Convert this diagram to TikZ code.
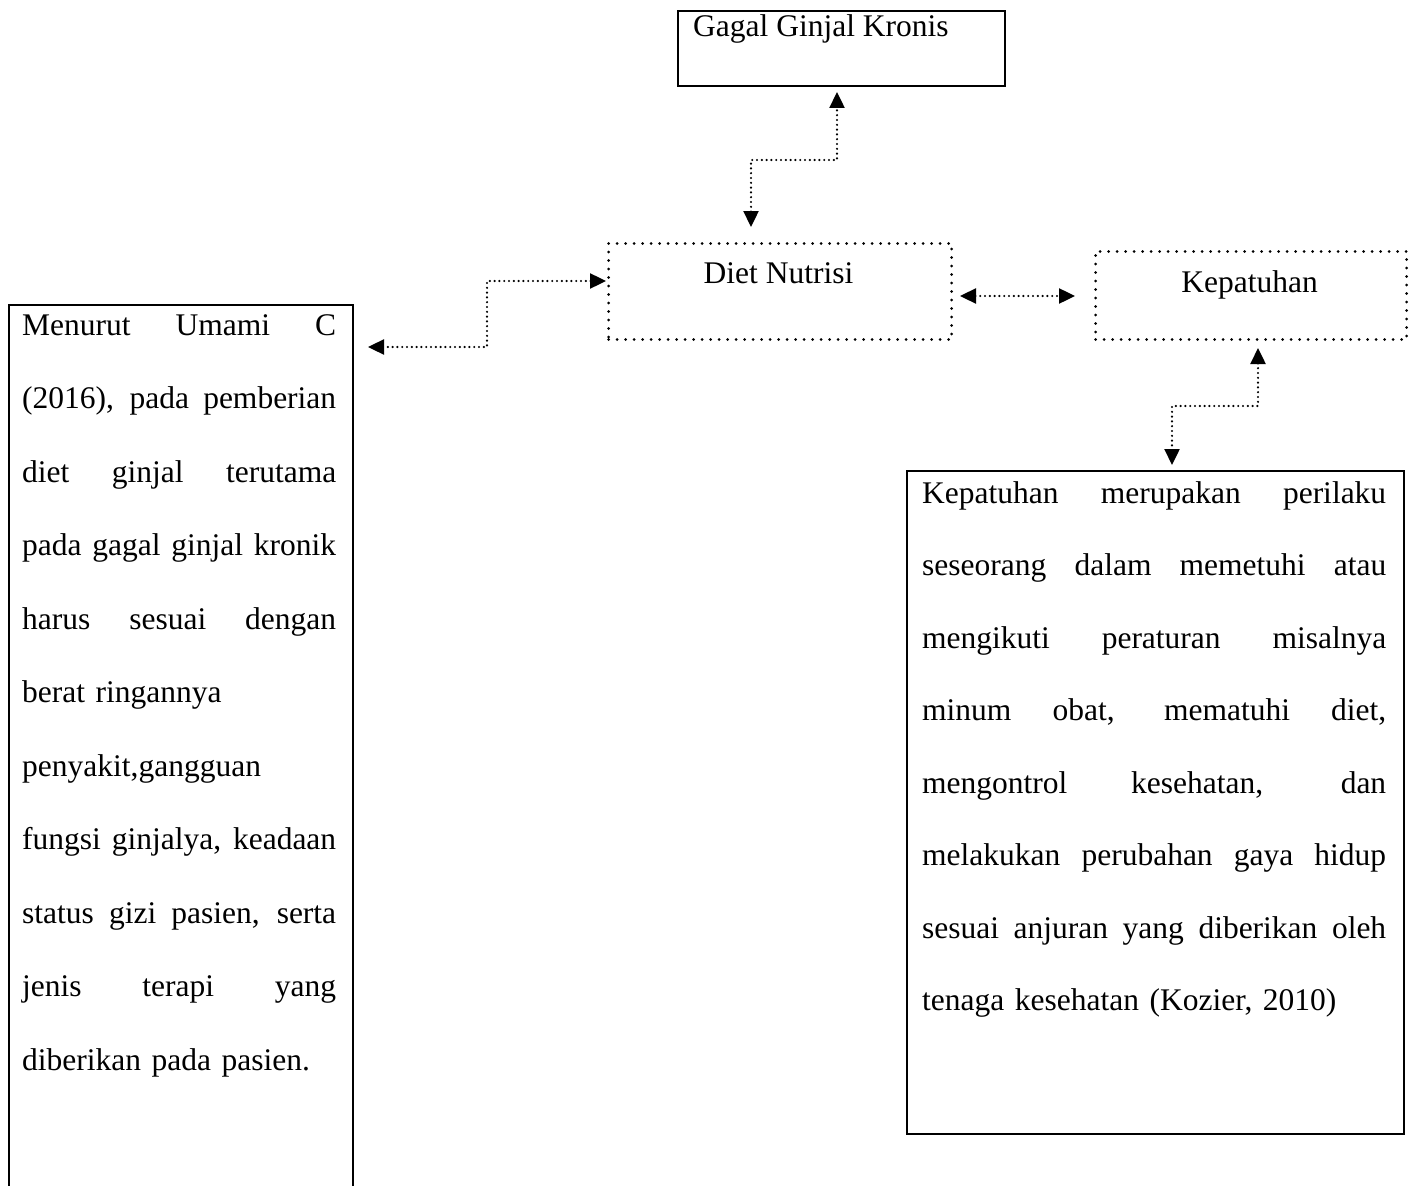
\documentclass[tikz,border=0pt]{standalone}
\usepackage{fontspec}
\setmainfont{Liberation Serif}
\usetikzlibrary{arrows.meta}
\newcommand{\jline}[1]{\leavevmode\hbox to\linewidth{\spaceskip=0.25em plus 1fil\xspaceskip=0.25em plus 1fil\relax #1}}
\begin{document}
\begin{tikzpicture}[x=1pt,y=-1pt,
  solidbox/.style={draw, line width=2.4pt, inner sep=0pt, anchor=north west},
  dotbox/.style={draw, line width=3pt, dash pattern=on 0pt off 8.5pt, line cap=round, inner sep=0pt, anchor=north west},
  conn/.style={line width=2.4pt, dash pattern=on 0pt off 4.8pt, line cap=round,
    arrows={Triangle[length=16pt,width=15pt]-Triangle[length=16pt,width=15pt]}},
  txt/.style={font=\fontsize{31.5}{38}\selectfont, inner sep=0pt},
  para/.style={inner sep=0pt, anchor=base west, align=left}
]
\useasboundingbox (0,0) rectangle (1412,1185);
\clip (0,0) rectangle (1412,1185);
\fill[white] (0,0) rectangle (1412,1185);

% top box
\node[solidbox, minimum width=327pt, minimum height=75pt] (gagal) at (677,10) {};
\node[txt, anchor=base west] (gagaltxt) at (693,37) {Gagal Ginjal Kronis};

% Diet Nutrisi
\node[dotbox, minimum width=343pt, minimum height=96pt] (diet) at (607,242) {};
\node[txt, anchor=base] (diettxt) at (778.5,283) {Diet Nutrisi};

% Kepatuhan
\node[dotbox, minimum width=311pt, minimum height=88pt] (kep) at (1094,250) {};
\node[txt, anchor=base] (keptxt) at (1249.5,292) {Kepatuhan};

% left box
\node[solidbox, minimum width=344pt, minimum height=950pt] (leftbox) at (8,304) {};
\node[para, text width=314pt, font=\fontsize{31.5}{73.5}\selectfont] (lefttxt) at (22,335) {%
\jline{Menurut Umami C}\\
\jline{(2016), pada pemberian}\\
\jline{diet ginjal terutama}\\
\jline{pada gagal ginjal kronik}\\
\jline{harus sesuai dengan}\\
berat ringannya\\
penyakit,gangguan\\
\jline{fungsi ginjalya, keadaan}\\
\jline{status gizi pasien, serta}\\
\jline{jenis terapi yang}\\
diberikan pada pasien.};

% right box
\node[solidbox, minimum width=497pt, minimum height=663pt] (rightbox) at (906,470) {};
\node[para, text width=464pt, font=\fontsize{31.5}{72.5}\selectfont] (righttxt) at (922,503) {%
\jline{Kepatuhan merupakan perilaku}\\
\jline{seseorang dalam memetuhi atau}\\
\jline{mengikuti peraturan misalnya}\\
\jline{minum obat, mematuhi diet,}\\
\jline{mengontrol kesehatan, dan}\\
\jline{melakukan perubahan gaya hidup}\\
\jline{sesuai anjuran yang diberikan oleh}\\
tenaga kesehatan (Kozier, 2010)};

% connector end points
\coordinate (dietTop) at (751,227);
\coordinate (gagalBot) at (837,92);
\coordinate (dietLeft) at (606,281);
\coordinate (leftTip) at (368,347);
\coordinate (dietRight) at (960,296);
\coordinate (kepLeft) at (1075,296);
\coordinate (kepBot) at (1258,348);
\coordinate (rightTop) at (1172,465);

\draw[conn] (dietTop) -- ++(0,-67) -| (gagalBot);
\draw[conn] (dietLeft) -- ++(-119,0) |- (leftTip);
\draw[conn] (dietRight) -- (kepLeft);
\draw[conn] (kepBot) -- ++(0,58) -| (rightTop);
\end{tikzpicture}
\end{document}
